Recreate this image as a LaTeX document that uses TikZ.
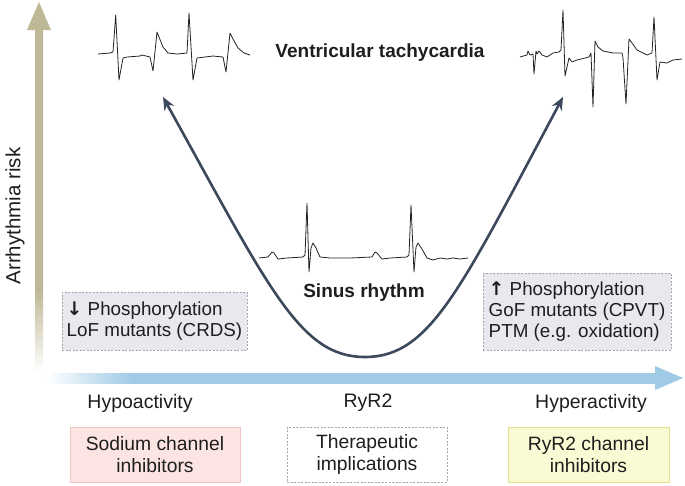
\documentclass[tikz,border=0pt]{standalone}
\usepackage{fontspec}
\setmainfont{Liberation Sans}
\newfontfamily\arrowfont{DejaVu Sans}
\usetikzlibrary{arrows.meta,positioning}
\definecolor{khaki}{RGB}{190,184,150}
\definecolor{skyline}{RGB}{160,203,230}
\definecolor{slate}{RGB}{60,72,92}
\definecolor{trace}{RGB}{35,35,35}
\definecolor{ink}{RGB}{30,30,30}
\definecolor{fog}{RGB}{232,233,238}
\definecolor{fogline}{RGB}{165,165,172}
\definecolor{blush}{RGB}{252,228,226}
\definecolor{blushline}{RGB}{238,198,196}
\definecolor{lemon}{RGB}{250,250,212}
\definecolor{lemonline}{RGB}{226,224,140}
\pgfdeclarehorizontalshading{bluefade}{100bp}{color(0bp)=(white); color(25bp)=(white);
  color(32bp)=(skyline); color(100bp)=(skyline)}
\pgfdeclareverticalshading{khakifade}{100bp}{color(0bp)=(white); color(25bp)=(white);
  color(37bp)=(khaki); color(100bp)=(khaki)}
\newcommand{\downarr}{{\arrowfont\bfseries ↓}}
\newcommand{\uparr}{{\arrowfont\bfseries ↑}}

\begin{document}
\begin{tikzpicture}[
        x=1pt,y=-1pt,
        txt/.style={font=\fontsize{19.5}{23}\selectfont,text=ink,inner sep=0pt},
        ttl/.style={font=\fontsize{19}{23}\selectfont\bfseries,text=ink,inner sep=0pt},
        factorbox/.style={
          draw=fogline,dash pattern=on 2pt off 1.5pt,line width=0.6pt,fill=fog,
          align=left,inner sep=0pt,font=\fontsize{18.8}{21}\selectfont,text=ink
        },
        therapybox/.style={
          align=center,inner sep=0pt,minimum width=170pt,minimum height=55pt,
          line width=0.6pt,font=\fontsize{19.3}{21.5}\selectfont,text=ink
        },
        ecg/.style={draw=trace,line width=0.8pt,line join=round},
        risk/.style={<->,>={Stealth[length=13pt,width=11pt]},line width=2.6pt,draw=slate}
      ]
      \useasboundingbox (0,0) rectangle (685,485);

      \shade[shading=khakifade] (35,372) rectangle (43,28);
      \fill[khaki] (27,30) -- (39,2) -- (51,30) -- cycle;
      \node[txt,rotate=90,font=\fontsize{20.5}{24}\selectfont] (risklabel) at (15,216) {Arrhythmia risk};

      \shade[shading=bluefade] (46,373) rectangle (656,383);
      \fill[skyline] (655,366) -- (683,378) -- (655,390) -- cycle;

      \draw[ecg] (98,54) -- (110,53) -- (113,52) -- (115.7,15) -- (119,80) -- (123,58) -- (127,57)
        -- (140,56) -- (142,55) -- (150,57) -- (153,71) -- (157,32) -- (159,37) -- (163,47)
        -- (168,53) -- (177,54) -- (187,53) -- (189,13) -- (193,80) -- (197,58) -- (213,56)
        -- (223,57) -- (226,72) -- (230,33) -- (233,39) -- (238,48) -- (244,53) -- (250,55);
      \draw[ecg] (520,57) -- (527,55) -- (528,51) -- (530,55) -- (533,54) -- (534,74) -- (536,51)
        -- (537,54) -- (539,51) -- (542,55) -- (547,57) -- (553,53) -- (559,52) -- (561,50)
        -- (563,10) -- (565,76) -- (569,58) -- (572,62) -- (577,60) -- (589,57) -- (591,53)
        -- (593,107) -- (595,41) -- (598,47) -- (603,51) -- (613,53) -- (622,53) -- (623,58)
        -- (626,104) -- (629,39) -- (632,43) -- (637,50) -- (647,55) -- (652,53) -- (654,17)
        -- (657,80) -- (660,62) -- (667,63) -- (673,60) -- (682,59);
      \draw[ecg] (259,258) -- (268,257) -- (272,252) -- (274,253) -- (278,259) -- (287,258)
        -- (303,257) -- (305,255) -- (307,203) -- (309,272) -- (311,248) -- (313,243)
        -- (316,248) -- (320,257) -- (330,258) -- (350,258) -- (372,257) -- (375,252)
        -- (377,253) -- (382,259) -- (390,258) -- (407,257) -- (409,255) -- (411,205)
        -- (414,272) -- (416,247) -- (418,243) -- (422,249) -- (427,258) -- (433,260)
        -- (440,258) -- (447,259) -- (453,258) -- (460,259) -- (468,258);

      \node[ttl] (vt) at (380,53) {Ventricular tachycardia};
      \node[ttl] (sinus) at (364,293) {Sinus rhythm};

      \coordinate (vtleft) at (163,97);
      \coordinate (vtright) at (563,97);
      \coordinate (sinusbottom) at (365,357);
      \draw[risk] (vtleft) .. controls (270,290) and (300,357) .. (sinusbottom)
        .. controls (430,357) and (460,290) .. (vtright);

      \node[factorbox,minimum width=185pt,minimum height=58pt] (lof) at (154.5,321)
        {\downarr\ Phosphorylation\\LoF mutants (CRDS)};
      \node[factorbox,minimum width=188pt,minimum height=77pt] (gof) at (577,311.5)
        {\uparr\ Phosphorylation\\GoF mutants (CPVT)\\PTM (e.g. oxidation)};

      \node[txt] (hypo) at (140,403) {Hypoactivity};
      \node[txt] (ryr) at (368,403) {RyR2};
      \node[txt] (hyper) at (591,403) {Hyperactivity};

      \node[therapybox,fill=blush,draw=blushline] (sodium) at (155,454.5) {Sodium channel\\inhibitors};
      \node[therapybox,draw=fogline,dash pattern=on 2pt off 1.5pt,minimum width=160pt] (therapy) at (367,454.5)
        {Therapeutic\\implications};
      \node[therapybox,fill=lemon,draw=lemonline,minimum width=161pt] (ryrblock) at (588.5,454.5)
        {RyR2 channel\\inhibitors};
    \end{tikzpicture}
\end{document}
